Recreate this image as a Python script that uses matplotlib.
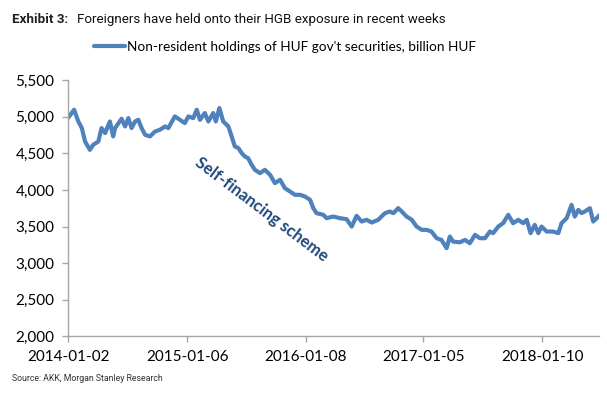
import pandas as pd
import matplotlib
matplotlib.use('Agg')
import matplotlib.pyplot as plt
from matplotlib.ticker import FuncFormatter, MultipleLocator

# --- Data: non-resident holdings, billion HUF ---
START_DATE = '2014-01-02'
DAYS = [0, 18, 31, 42, 52, 67, 77, 93, 103, 114, 129, 139, 145, 165, 176, 186,
        196, 207, 217, 227, 238, 253, 269, 284, 300, 310, 330, 346, 361, 372,
        387, 398, 408, 423, 434, 449, 457, 468, 480, 496, 506, 516, 527, 537,
        547, 557, 568, 578, 594, 609, 625, 640, 656, 671, 687, 702, 718, 733,
        749, 759, 769, 790, 800, 821, 841, 862, 878, 893, 909, 924, 940, 960,
        981, 996, 1007, 1022, 1033, 1048, 1064, 1079, 1095, 1110, 1125, 1141,
        1156, 1172, 1182, 1192, 1213, 1229, 1244, 1260, 1275, 1291, 1306, 1316,
        1332, 1347, 1363, 1378, 1394, 1409, 1420, 1432, 1445, 1456, 1466, 1482,
        1502, 1518, 1528, 1544, 1559, 1569, 1580, 1590, 1600, 1616, 1626, 1637,
        1647]
HOLDINGS = [4985, 5094, 4934, 4844, 4660, 4547, 4616, 4660, 4844, 4776, 4934,
            4730, 4844, 4971, 4866, 4980, 4844, 4934, 4957, 4844, 4752, 4730,
            4798, 4821, 4866, 4844, 5003, 4957, 4912, 5003, 4980, 5094, 4957,
            5049, 4934, 5049, 4934, 5117, 4934, 4866, 4730, 4593, 4571, 4503,
            4456, 4434, 4343, 4274, 4229, 4274, 4206, 4093, 4138, 4024, 3978,
            3933, 3933, 3910, 3865, 3751, 3683, 3660, 3615, 3637, 3615, 3601,
            3500, 3646, 3569, 3592, 3555, 3592, 3683, 3705, 3683, 3751, 3705,
            3637, 3592, 3500, 3455, 3455, 3432, 3341, 3318, 3205, 3364, 3295,
            3285, 3318, 3273, 3387, 3341, 3341, 3432, 3410, 3500, 3546, 3660,
            3546, 3592, 3546, 3592, 3410, 3523, 3410, 3500, 3432, 3432, 3410,
            3546, 3615, 3796, 3637, 3728, 3683, 3705, 3751, 3569, 3615, 3660]
X_TICK_DATES = ['2014-01-02', '2015-01-06', '2016-01-08', '2017-01-05', '2018-01-10']
X_END_DAY = 1644

LINE_COLOR = '#4f81bd'
NOTE_COLOR = '#1f497d'
SPINE_COLOR = '#a6a6a6'
FONT = 'Lato'
NARROW = ['Liberation Sans Narrow', 'Roboto', 'DejaVu Sans']

dates = pd.Timestamp(START_DATE) + pd.to_timedelta(DAYS, unit='D')

fig = plt.figure(figsize=(6.07, 3.96), dpi=100)
ax = fig.add_axes([0.1125, 0.1503, 0.8743, 0.6477])

line, = ax.plot(dates, HOLDINGS, color=LINE_COLOR, linewidth=3.0,
                solid_joinstyle='round', solid_capstyle='round')

ax.set_ylim(2000, 5500)
ax.yaxis.set_major_locator(MultipleLocator(500))
ax.yaxis.set_major_formatter(FuncFormatter(lambda v, p: f'{v:,.0f}'))
ax.set_xlim(pd.Timestamp(START_DATE), pd.Timestamp(START_DATE) + pd.Timedelta(days=X_END_DAY))
ax.set_xticks(pd.to_datetime(X_TICK_DATES))
ax.set_xticklabels(X_TICK_DATES)

for side in ['top', 'right']:
    ax.spines[side].set_visible(False)
for side in ['left', 'bottom']:
    ax.spines[side].set_color(SPINE_COLOR)
    ax.spines[side].set_linewidth(1.0)
ax.tick_params(axis='both', direction='out', length=4, width=1.0, color=SPINE_COLOR,
               labelsize=11, labelcolor='black', pad=6)
for lab in ax.get_xticklabels() + ax.get_yticklabels():
    lab.set_fontfamily(FONT)

# annotation
ax.text(pd.Timestamp(START_DATE) + pd.Timedelta(days=600), 3728, 'Self-financing scheme',
        rotation=-37, rotation_mode='anchor', ha='center', va='center',
        color=NOTE_COLOR, fontsize=12, fontweight='bold', family=FONT)

# legend
fig.legend([line], ["Non-resident holdings of HUF gov't securities, billion HUF"],
           loc='center', bbox_to_anchor=(0.4695, 0.882), frameon=False,
           handlelength=2.3, handletextpad=0.15, prop={'family': FONT, 'size': 9.8})

# title and source
fig.text(12 / 607, 0.950, 'Exhibit 3:', fontsize=9.6, fontweight='bold', family=NARROW,
         color='#222222', va='center')
fig.text(77 / 607, 0.950, 'Foreigners have held onto their HGB exposure in recent weeks',
         fontsize=9.6, family=NARROW, color='#111111', va='center')
fig.text(12 / 607, 0.043, 'Source: AKK, Morgan Stanley Research', fontsize=6.3,
         family=NARROW, color='#333333', va='center')

fig.savefig('out.png', dpi=100)
